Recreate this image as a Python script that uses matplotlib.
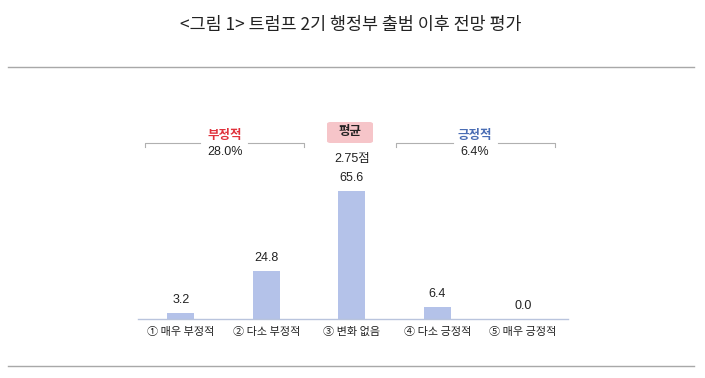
import matplotlib
matplotlib.use("Agg")
import matplotlib.pyplot as plt
from matplotlib.patches import FancyBboxPatch
from matplotlib.lines import Line2D

plt.rcParams['font.family'] = ['Noto Sans CJK KR', 'DejaVu Sans']

categories = ["① 매우 부정적", "② 다소 부정적", "③ 변화 없음", "④ 다소 긍정적", "⑤ 매우 긍정적"]
values = [3.2, 24.8, 65.6, 6.4, 0.0]
title = "<그림 1> 트럼프 2기 행정부 출범 이후 전망 평가"
neg_label, neg_value = "부정적", "28.0%"
avg_label, avg_value = "평균", "2.75점"
pos_label, pos_value = "긍정적", "6.4%"

W, H = 705, 378
fig = plt.figure(figsize=(W / 100, H / 100), dpi=100)
fig.patch.set_facecolor("white")

def fx(x):
    return x / W

def fy(y):
    return 1 - y / H

# axes: baseline at y=319, x from 138 to 568, 1.95 px per unit
ax = fig.add_axes([fx(138), fy(319), (568 - 138) / W, 195 / H])
x = list(range(len(categories)))
ax.bar(x, values, width=0.32, color="#b4c2e9", zorder=2)
ax.set_xlim(-0.5, 4.53)
ax.set_ylim(0, 100)
for s in ["top", "right", "left"]:
    ax.spines[s].set_visible(False)
ax.spines["bottom"].set_color("#b9c4dd")
ax.spines["bottom"].set_linewidth(1.0)
ax.set_yticks([])
ax.set_xticks(x)
ax.set_xticklabels(categories, fontsize=8, color="#222222")
ax.tick_params(axis="x", length=0, pad=6)
for xi, v in zip(x, values):
    ax.annotate(f"{v:.1f}", (xi, v), xytext=(0, 5), textcoords="offset points",
                ha="center", va="bottom", fontsize=9, color="#222222",
                family=["Liberation Sans", "DejaVu Sans"])

# title and separator lines
fig.text(fx(351), fy(25), title, ha="center", va="center", fontsize=12.5, color="#222222")
fig.add_artist(Line2D([fx(8), fx(694)], [fy(67), fy(67)], color="#a8a8a8", lw=1.0))
fig.add_artist(Line2D([fx(8), fx(694)], [fy(366), fy(366)], color="#a8a8a8", lw=1.0))

def bracket(x0, x1, gap0, gap1, y):
    col = "#b0b0b0"
    fig.add_artist(Line2D([fx(x0), fx(x0), fx(gap0)], [fy(y + 4), fy(y), fy(y)], color=col, lw=0.8))
    fig.add_artist(Line2D([fx(gap1), fx(x1), fx(x1)], [fy(y), fy(y), fy(y + 4)], color=col, lw=0.8))

bracket(145, 304, 200, 248, 143)
bracket(396, 555, 453, 498, 143)

fig.text(fx(225), fy(136), neg_label, ha="center", va="center", fontsize=9,
         color="#e0323c", fontweight="bold")
fig.text(fx(225), fy(152), neg_value, ha="center", va="center", fontsize=9,
         color="#222222", family=["Liberation Sans", "DejaVu Sans"])
fig.text(fx(475), fy(136), pos_label, ha="center", va="center", fontsize=9,
         color="#4a6db4", fontweight="bold")
fig.text(fx(475), fy(152), pos_value, ha="center", va="center", fontsize=9,
         color="#222222", family=["Liberation Sans", "DejaVu Sans"])

box = FancyBboxPatch((fx(327), fy(143)), fx(46), 21 / H,
                     boxstyle="round,pad=0,rounding_size=0.005",
                     transform=fig.transFigure, facecolor="#f6c5c9", edgecolor="none")
fig.add_artist(box)
fig.text(fx(350), fy(132), avg_label, ha="center", va="center", fontsize=9,
         color="#222222", fontweight="bold")
fig.text(fx(352), fy(159), avg_value, ha="center", va="center", fontsize=9,
         color="#222222", family=["Liberation Sans", "Noto Sans CJK KR"])

fig.savefig("out.png", dpi=100)
